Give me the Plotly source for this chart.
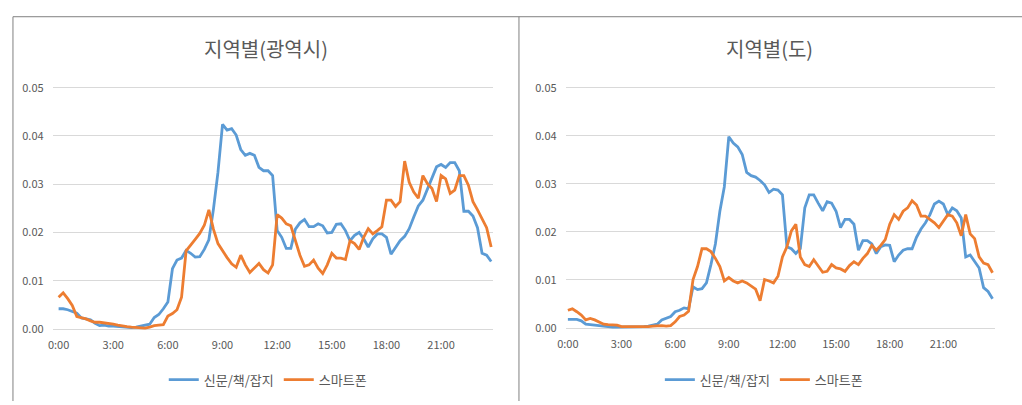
import plotly.graph_objects as go

# 15-minute time slots, 0:00 .. 23:45
times = [f"{h}:{m:02d}" for h in range(24) for m in (0, 15, 30, 45)]
tick_labels = ["0:00", "3:00", "6:00", "9:00", "12:00", "15:00", "18:00", "21:00"]

series_names = ["신문/책/잡지", "스마트폰"]
panel_titles = ["지역별(광역시)", "지역별(도)"]

# 광역시 - 신문/책/잡지
metro_print = [
    0.0042, 0.0042, 0.0040, 0.0037,
    0.0033, 0.0023, 0.0021, 0.0019,
    0.0012, 0.0007, 0.0008, 0.0006,
    0.0006, 0.0005, 0.0004, 0.0003,
    0.0003, 0.0004, 0.0006, 0.0008,
    0.0010, 0.0024, 0.0030, 0.0042,
    0.0056, 0.0125, 0.0143, 0.0147,
    0.0163, 0.0157, 0.0149, 0.0150,
    0.0165, 0.0185, 0.0248, 0.0325,
    0.0424, 0.0412, 0.0415, 0.0402,
    0.0372, 0.0360, 0.0364, 0.0360,
    0.0335, 0.0328, 0.0328, 0.0318,
    0.0204, 0.0190, 0.0167, 0.0167,
    0.0207, 0.0220, 0.0227, 0.0212,
    0.0212, 0.0218, 0.0214, 0.0199,
    0.0200, 0.0217, 0.0218, 0.0204,
    0.0183, 0.0194, 0.0200, 0.0187,
    0.0170, 0.0187, 0.0197, 0.0197,
    0.0190, 0.0155, 0.0170, 0.0183,
    0.0192, 0.0208, 0.0232, 0.0255,
    0.0267, 0.0290, 0.0316, 0.0336,
    0.0341, 0.0335, 0.0345, 0.0345,
    0.0328, 0.0244, 0.0244, 0.0234,
    0.0210, 0.0157, 0.0153, 0.0140,
]

# 광역시 - 스마트폰
metro_phone = [
    0.0066, 0.0075, 0.0063, 0.0049,
    0.0026, 0.0024, 0.0021, 0.0017,
    0.0014, 0.0014, 0.0013, 0.0011,
    0.0010, 0.0008, 0.0006, 0.0005,
    0.0004, 0.0003, 0.0003, 0.0002,
    0.0004, 0.0007, 0.0008, 0.0009,
    0.0027, 0.0032, 0.0040, 0.0066,
    0.0162, 0.0175, 0.0186, 0.0198,
    0.0215, 0.0247, 0.0207, 0.0177,
    0.0162, 0.0148, 0.0135, 0.0128,
    0.0153, 0.0133, 0.0117, 0.0126,
    0.0136, 0.0123, 0.0116, 0.0133,
    0.0237, 0.0230, 0.0218, 0.0214,
    0.0183, 0.0153, 0.0130, 0.0133,
    0.0143, 0.0126, 0.0115, 0.0133,
    0.0157, 0.0147, 0.0147, 0.0144,
    0.0183, 0.0177, 0.0165, 0.0190,
    0.0208, 0.0197, 0.0204, 0.0212,
    0.0267, 0.0267, 0.0254, 0.0264,
    0.0348, 0.0304, 0.0284, 0.0271,
    0.0318, 0.0301, 0.0291, 0.0264,
    0.0318, 0.0311, 0.0281, 0.0288,
    0.0318, 0.0318, 0.0298, 0.0264,
    0.0247, 0.0227, 0.0210, 0.0170,
]

# 도 - 신문/책/잡지
province_print = [
    0.0018, 0.0018, 0.0018, 0.0015,
    0.0008, 0.0007, 0.0006, 0.0004,
    0.0003, 0.0002, 0.0002, 0.0002,
    0.0002, 0.0002, 0.0002, 0.0002,
    0.0002, 0.0003, 0.0004, 0.0006,
    0.0008, 0.0017, 0.0020, 0.0024,
    0.0034, 0.0037, 0.0042, 0.0040,
    0.0086, 0.0080, 0.0082, 0.0094,
    0.0132, 0.0175, 0.0243, 0.0294,
    0.0398, 0.0385, 0.0377, 0.0361,
    0.0324, 0.0317, 0.0314, 0.0307,
    0.0298, 0.0282, 0.0289, 0.0287,
    0.0277, 0.0169, 0.0165, 0.0155,
    0.0165, 0.0250, 0.0277, 0.0277,
    0.0260, 0.0244, 0.0263, 0.0260,
    0.0243, 0.0209, 0.0226, 0.0226,
    0.0216, 0.0162, 0.0182, 0.0182,
    0.0175, 0.0155, 0.0169, 0.0173,
    0.0172, 0.0138, 0.0152, 0.0162,
    0.0165, 0.0165, 0.0189, 0.0206,
    0.0219, 0.0236, 0.0258, 0.0264,
    0.0258, 0.0236, 0.0250, 0.0244,
    0.0229, 0.0148, 0.0152, 0.0138,
    0.0125, 0.0084, 0.0076, 0.0061,
]

# 도 - 스마트폰
province_phone = [
    0.0037, 0.0040, 0.0034, 0.0027,
    0.0017, 0.0020, 0.0017, 0.0012,
    0.0008, 0.0007, 0.0007, 0.0006,
    0.0003, 0.0003, 0.0002, 0.0002,
    0.0002, 0.0003, 0.0003, 0.0004,
    0.0005, 0.0005, 0.0004, 0.0005,
    0.0013, 0.0024, 0.0027, 0.0035,
    0.0101, 0.0128, 0.0165, 0.0165,
    0.0159, 0.0145, 0.0128, 0.0098,
    0.0105, 0.0098, 0.0094, 0.0098,
    0.0094, 0.0088, 0.0081, 0.0057,
    0.0101, 0.0098, 0.0094, 0.0108,
    0.0148, 0.0169, 0.0202, 0.0216,
    0.0148, 0.0132, 0.0128, 0.0142,
    0.0128, 0.0116, 0.0118, 0.0132,
    0.0125, 0.0123, 0.0118, 0.0130,
    0.0138, 0.0132, 0.0145, 0.0155,
    0.0172, 0.0162, 0.0172, 0.0184,
    0.0216, 0.0236, 0.0226, 0.0243,
    0.0250, 0.0265, 0.0256, 0.0233,
    0.0233, 0.0226, 0.0219, 0.0209,
    0.0223, 0.0236, 0.0233, 0.0219,
    0.0192, 0.0236, 0.0196, 0.0186,
    0.0148, 0.0135, 0.0132, 0.0115,
]

W, H = 1022, 405
BLUE = "#5B9BD5"
ORANGE = "#ED7D31"
TEXT = "#595959"
GRID = "#D9D9D9"
FONT = "Noto Sans CJK KR"


def px_x(p):
    return p / W


def px_y(p):
    return 1 - p / H


fig = go.Figure()

panels = [
    ("x", "y", "legend", metro_print, metro_phone),
    ("x2", "y2", "legend2", province_print, province_phone),
]
for xa, ya, lg, s_print, s_phone in panels:
    for name, vals, color in ((series_names[0], s_print, BLUE),
                              (series_names[1], s_phone, ORANGE)):
        fig.add_trace(go.Scatter(
            x=times, y=vals, name=name, mode="lines",
            line=dict(color=color, width=2.8),
            xaxis=xa, yaxis=ya, legend=lg, showlegend=True,
            hoverinfo="skip",
        ))

axis_font = dict(family=FONT, size=11, color=TEXT)

common_x = dict(type="category", tickmode="array", tickvals=tick_labels,
                ticktext=tick_labels, showgrid=False, zeroline=False,
                showline=False, ticks="", tickfont=axis_font,
                ticklabelstandoff=6, fixedrange=True)
common_y = dict(range=[-0.0005, 0.0505], dtick=0.01, tick0=0,
                tickformat=".2f", showgrid=True, gridcolor=GRID,
                gridwidth=1, zeroline=False, showline=False, ticks="",
                tickfont=axis_font, ticklabelstandoff=8, fixedrange=True)

legend_style = dict(orientation="h", xanchor="left", yanchor="middle",
                    font=dict(family=FONT, size=13, color=TEXT),
                    bgcolor="rgba(0,0,0,0)", itemclick=False,
                    itemdoubleclick=False)

fig.update_layout(
    width=W, height=H,
    margin=dict(l=0, r=0, t=0, b=0),
    paper_bgcolor="white", plot_bgcolor="white",
    font=dict(family=FONT, color=TEXT),
    xaxis=dict(common_x, domain=[px_x(45), px_x(489)],
               range=[-1.31, 95.44], anchor="y"),
    yaxis=dict(common_y, domain=[px_y(333.5), px_y(80.5)], anchor="x"),
    xaxis2=dict(common_x, domain=[px_x(562), px_x(995)],
                range=[-0.51, 95.6], anchor="y2"),
    yaxis2=dict(common_y, domain=[px_y(332.5), px_y(80.5)], anchor="x2"),
    legend=dict(legend_style, x=px_x(157), y=px_y(383)),
    legend2=dict(legend_style, x=px_x(657), y=px_y(383)),
    showlegend=True,
)

# Panel titles
for title, cx in zip(panel_titles, (260, 768)):
    fig.add_annotation(text=title, x=px_x(cx), y=px_y(43), xref="paper",
                       yref="paper", xanchor="center", yanchor="middle",
                       showarrow=False,
                       font=dict(family=FONT, size=20, color=TEXT))

# Chart frames
frame = dict(type="line", xref="paper", yref="paper",
             line=dict(color="#808080", width=1))
fig.add_shape(frame, x0=px_x(5), x1=1, y0=px_y(10), y1=px_y(10))
fig.add_shape(frame, x0=px_x(5), x1=px_x(5), y0=px_y(10), y1=0)
fig.add_shape(frame, x0=px_x(515), x1=px_x(515), y0=px_y(10), y1=0)

fig.write_html("out.html")
